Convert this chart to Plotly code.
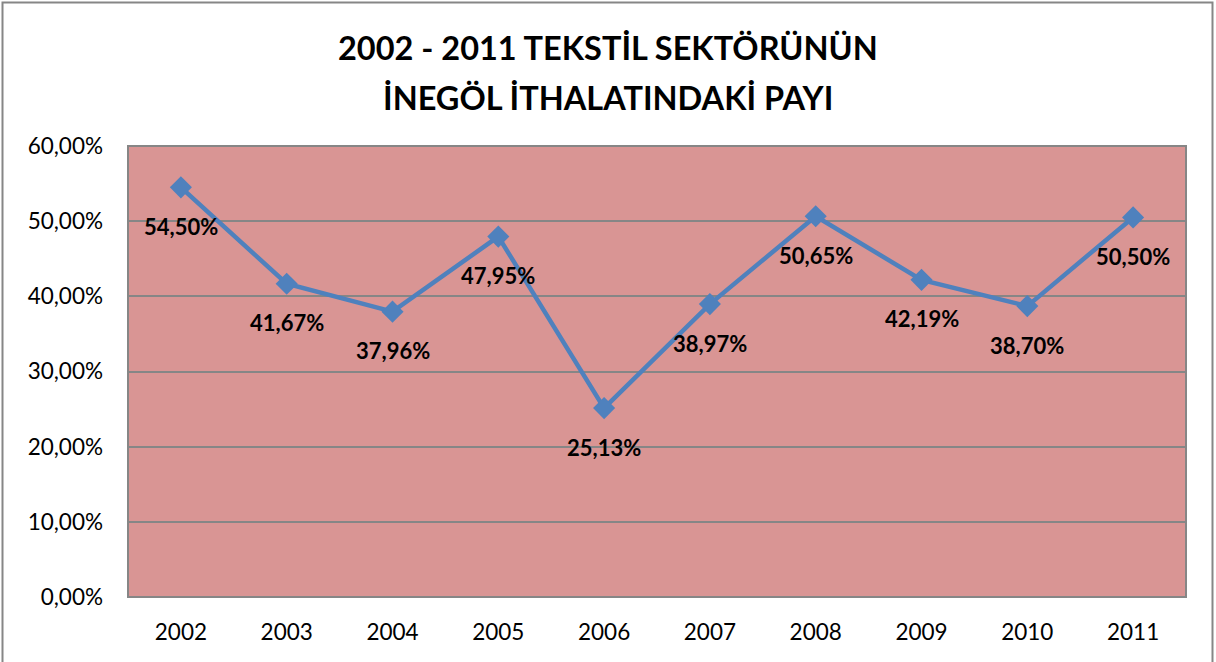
import plotly.graph_objects as go

years = [2002, 2003, 2004, 2005, 2006, 2007, 2008, 2009, 2010, 2011]
shares = [54.50, 41.67, 37.96, 47.95, 25.13, 38.97, 50.65, 42.19, 38.70, 50.50]
y_ticks = [0, 10, 20, 30, 40, 50, 60]
title_lines = ["2002 - 2011 TEKSTİL SEKTÖRÜNÜN", "İNEGÖL İTHALATINDAKİ PAYI"]

W, H = 1216, 662
L, R, T, B = 128, 1186, 146, 597

font_family = "Lato, 'Open Sans', sans-serif"

def fmt(v):
    return f"{v:.2f}".replace(".", ",") + "%"

fig = go.Figure()
fig.add_trace(go.Scatter(
    x=years, y=shares, mode="lines+markers",
    line=dict(color="#4F81BD", width=4.5),
    marker=dict(symbol="diamond", size=17, color="#4F81BD"),
    hoverinfo="skip", showlegend=False,
))

for xv, yv in zip(years, shares):
    fig.add_annotation(x=xv, y=yv, xref="x", yref="y", text=f"<b>{fmt(yv)}</b>", showarrow=False,
                       xanchor="center", yanchor="middle",
                       yshift=-39, font=dict(family=font_family, size=22, color="black"))

pw = R - L
ph = B - T
def px(x):
    return (x - L) / pw
def py(y):
    return (B - y) / ph

for line, yc in zip(title_lines, [47, 97]):
    fig.add_annotation(x=0.5 * (px(0) + px(1216)), y=py(yc), xref="paper", yref="paper",
                       text=f"<b>{line}</b>", showarrow=False, xanchor="center", yanchor="middle",
                       font=dict(family=font_family, size=32.5, color="black"))

fig.add_shape(type="rect", xref="paper", yref="paper",
              x0=px(2.5), x1=px(1212.5), y0=py(2.5), y1=py(680),
              line=dict(color="#868686", width=2), fillcolor="rgba(0,0,0,0)", layer="above")
fig.add_shape(type="rect", xref="paper", yref="paper", x0=0, x1=1, y0=0, y1=1,
              line=dict(color="#868686", width=2), fillcolor="rgba(0,0,0,0)", layer="below")

fig.update_layout(
    width=W, height=H,
    margin=dict(l=L, r=W - R, t=T, b=H - B),
    paper_bgcolor="white", plot_bgcolor="#D99594",
    xaxis=dict(type="linear", range=[years[0] - 0.5, years[-1] + 0.5], tickvals=years,
               ticktext=[str(y) for y in years], showgrid=False, showline=False, zeroline=False, ticks="",
               tickfont=dict(family=font_family, size=22.5, color="black"), ticklabelstandoff=19),
    yaxis=dict(range=[0, 60], tickvals=y_ticks, ticktext=[fmt(v) for v in y_ticks],
               showgrid=True, gridcolor="#868686", gridwidth=2, zeroline=False, showline=False,
               ticks="", tickfont=dict(family=font_family, size=22.5, color="black"), ticklabelstandoff=24),
)

fig.write_html("out.html", config={"displayModeBar": False},
               post_script="document.body.style.margin='0';document.body.style.overflow='hidden';")
